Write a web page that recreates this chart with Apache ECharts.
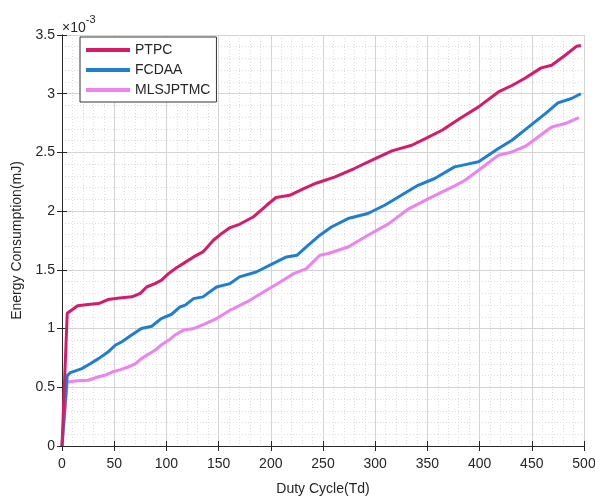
<!DOCTYPE html>
<html><head><meta charset="utf-8">
<script src="https://cdn.jsdelivr.net/npm/echarts@6/dist/echarts.min.js"></script>
<style>html,body{margin:0;padding:0;background:#fff}#c{width:595px;height:496px}</style>
</head><body><div id="c"></div>
<script>
const xTicks = [0,50,100,150,200,250,300,350,400,450,500];
const yTicks = [0,0.5,1,1.5,2,2.5,3,3.5];
const seriesNames = ['PTPC','FCDAA','MLSJPTMC'];
const ptpcX = [0,5,8,15,25,35,44,55,67,75,81,89,95,102,110,116,126,135,145,153,161,170,183,196,205,218,231,244,261,280,300,316,335,348,364,376,383,399,418,431,443,459,469,482,493,497];
const ptpcY = [0,1.13,1.15,1.195,1.205,1.213,1.247,1.26,1.27,1.3,1.354,1.383,1.41,1.468,1.52,1.553,1.61,1.653,1.752,1.81,1.86,1.888,1.95,2.05,2.116,2.135,2.19,2.24,2.29,2.363,2.448,2.513,2.561,2.618,2.689,2.76,2.8,2.888,3.015,3.07,3.13,3.22,3.243,3.328,3.405,3.41];
const fcdaaX = [0,5,8,19,27,35,44,51,57,66,76,86,95,105,113,118,126,135,148,161,170,186,202,215,225,234,247,258,274,293,309,325,341,357,376,383,399,418,431,447,463,475,488,497];
const fcdaaY = [0,0.6,0.625,0.659,0.7,0.744,0.8,0.858,0.886,0.94,1.0,1.02,1.085,1.122,1.184,1.2,1.255,1.27,1.354,1.383,1.44,1.482,1.553,1.61,1.624,1.695,1.795,1.865,1.937,1.98,2.05,2.135,2.22,2.278,2.377,2.39,2.42,2.533,2.604,2.717,2.831,2.922,2.959,3.0];
const mlsX = [0,5,15,25,35,41,48,56,63.5,70,76,89,95,102,109,116,126,137,148,161,177,193,209,222,234,247,255,274,293,313,332,351,377,386,399,418,431,444,456,469,482,495];
const mlsY = [0,0.545,0.555,0.56,0.59,0.602,0.63,0.65,0.673,0.7,0.744,0.815,0.86,0.9,0.95,0.985,1.0,1.04,1.085,1.156,1.227,1.312,1.397,1.468,1.511,1.624,1.639,1.695,1.795,1.894,2.02,2.107,2.22,2.263,2.348,2.476,2.504,2.553,2.632,2.717,2.746,2.797];
const colors = ['#d81b68','#1e7fd2','#ee82ee'];

const pairs = (xs, ys) => xs.map((x,i)=>[x, ys[i]]);
const txt = '#262626';
const font = 'Liberation Sans, Arial, sans-serif';
const chart = echarts.init(document.getElementById('c'), null, {renderer:'canvas'});
const baseX = {
  type:'value', min:0, max:500, interval:50,
  axisLine:{show:true, lineStyle:{color:txt, width:1}},
  axisTick:{show:true, inside:true, length:5, lineStyle:{color:txt}},
  minorTick:{show:false, splitNumber:5},
  splitLine:{show:true, lineStyle:{color:'#d4d4d4', width:1}},
  minorSplitLine:{show:true, lineStyle:{color:'#dedede', type:[1,2], width:1}}
};
const baseY = {
  type:'value', min:0, max:3.5, interval:0.5,
  axisLine:{show:true, lineStyle:{color:txt, width:1}},
  axisTick:{show:true, inside:true, length:5, lineStyle:{color:txt}},
  minorTick:{show:false, splitNumber:5},
  splitLine:{show:true, lineStyle:{color:'#d4d4d4', width:1}},
  minorSplitLine:{show:true, lineStyle:{color:'#dedede', type:[1,2], width:1}}
};
chart.setOption({
  animation:false,
  backgroundColor:'#ffffff',
  grid:{left:62, right:11, top:35, bottom:50, containLabel:false, outerBoundsMode:'none'},
  legend:{
    show:true, orient:'vertical', left:80, top:37,
    data:seriesNames,
    icon:'rect', itemWidth:44, itemHeight:4, itemGap:6, itemTextGap:7,
    textStyle:{fontSize:14, color:txt, fontFamily:font},
    padding:[6,6,5,6], borderColor:'#333', borderWidth:1, backgroundColor:'#fff'
  },
  graphic:[{
    type:'text', left:62, top:14,
    style:{
      text:'{a|×10}{b|-3}',
      rich:{
        a:{fontSize:14, fill:txt, fontFamily:font, padding:[7,0,0,0]},
        b:{fontSize:11, fill:txt, fontFamily:font, verticalAlign:'top'}
      }
    }
  }],
  xAxis:[
    Object.assign({}, baseX, {
      position:'bottom',
      name:'Duty Cycle(Td)', nameLocation:'middle', nameGap:36,
      nameTextStyle:{fontSize:14, color:txt, fontFamily:font},
      axisLabel:{show:true, fontSize:14, color:txt, fontFamily:font, margin:11, customValues:xTicks}
    }),
    Object.assign({}, baseX, {position:'top', axisLabel:{show:false}, splitLine:{show:false}, minorSplitLine:{show:false}})
  ],
  yAxis:[
    Object.assign({}, baseY, {
      position:'left',
      name:'Energy Consumption(mJ)', nameLocation:'middle', nameGap:38,
      nameTextStyle:{fontSize:14, color:txt, fontFamily:font},
      axisLabel:{show:true, fontSize:14, color:txt, fontFamily:font, margin:7, customValues:yTicks}
    }),
    Object.assign({}, baseY, {position:'right', axisLabel:{show:false}, splitLine:{show:false}, minorSplitLine:{show:false}})
  ],
  series:[
    {name:seriesNames[0], type:'line', data:pairs(ptpcX,ptpcY), showSymbol:false, symbol:'none', color:colors[0], lineStyle:{width:3, color:colors[0]}, z:5},
    {name:seriesNames[1], type:'line', data:pairs(fcdaaX,fcdaaY), showSymbol:false, symbol:'none', color:colors[1], lineStyle:{width:3, color:colors[1]}, z:4},
    {name:seriesNames[2], type:'line', data:pairs(mlsX,mlsY), showSymbol:false, symbol:'none', color:colors[2], lineStyle:{width:3, color:colors[2]}, z:3}
  ]
});
</script></body></html>
